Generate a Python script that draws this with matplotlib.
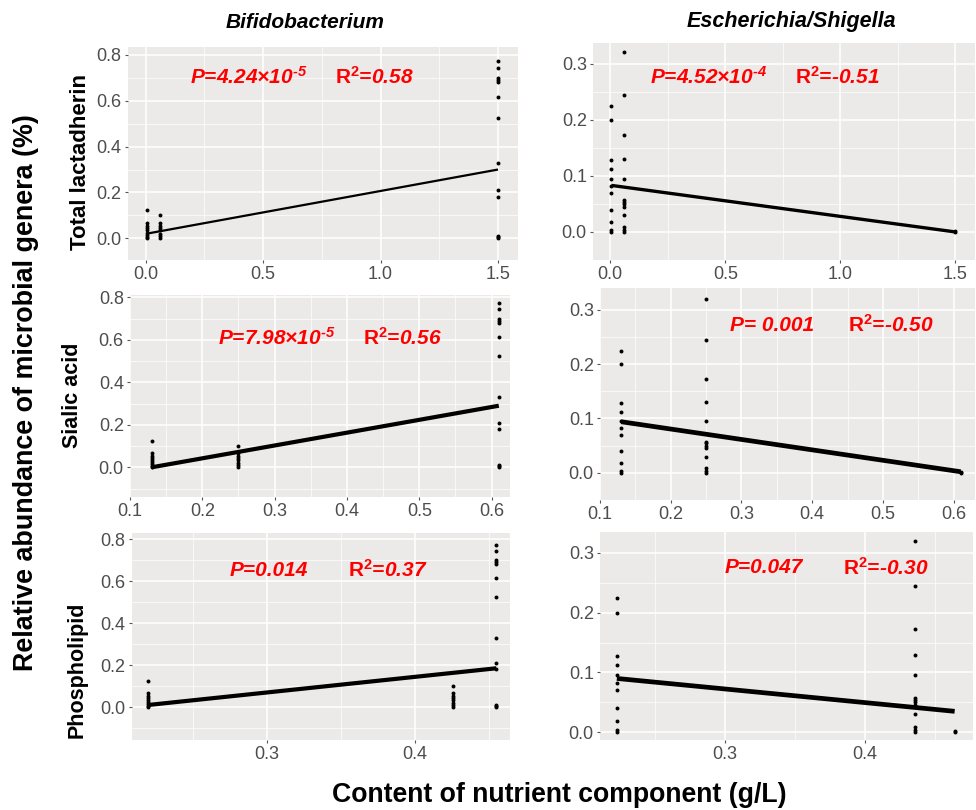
import matplotlib
matplotlib.use('Agg')
import matplotlib.pyplot as plt
from matplotlib.ticker import MultipleLocator

plt.rcParams['font.family'] = ['Liberation Sans', 'DejaVu Sans']
plt.rcParams['mathtext.fontset'] = 'custom'
plt.rcParams['mathtext.rm'] = 'Liberation Sans:bold:italic'
plt.rcParams['mathtext.it'] = 'Liberation Sans:bold:italic'
plt.rcParams['mathtext.bf'] = 'Liberation Sans:bold'

# abundance values per nutrient level (same samples in each row)
bifido_low1 = [0.125, 0.065, 0.055, 0.045, 0.035, 0.025, 0.015, 0.005, 0.0]
bifido_low2 = [0.10, 0.065, 0.055, 0.045, 0.035, 0.02, 0.01, 0.0]
bifido_high = [0.775, 0.745, 0.70, 0.69, 0.68, 0.615, 0.525, 0.33, 0.21, 0.18, 0.01, 0.005, 0.0]

esch_low1 = [0.225, 0.2, 0.128, 0.112, 0.095, 0.082, 0.07, 0.04, 0.018, 0.003, 0.0]
esch_low2 = [0.32, 0.245, 0.173, 0.13, 0.095, 0.057, 0.054, 0.05, 0.045, 0.03, 0.008, 0.003, 0.0]
esch_high = [0.002, 0.0]

# nutrient levels (g/L)
lact_x = [0.005, 0.06, 1.5]
sialic_x = [0.13, 0.25, 0.61]
phos_x_bif = [0.22, 0.426, 0.455]
phos_x_esc = [0.223, 0.436, 0.464]

# fitted line ends (y at first and last level)
fit_lact_bif = [0.02, 0.30]
fit_lact_esc = [0.083, 0.0]
fit_sial_bif = [0.0, 0.29]
fit_sial_esc = [0.094, 0.002]
fit_phos_bif = [0.01, 0.185]
fit_phos_esc = [0.09, 0.035]

hy = '\u2010'
p_texts = ['P=4.24×10$^{' + hy + '5}$', 'P=4.52×10$^{' + hy + '4}$', 'P=7.98×10$^{' + hy + '5}$',
           'P= 0.001', 'P=0.014', 'P=0.047']
r2 = r'$\mathbf{R}^{\mathbf{2}}$'
r_texts = [r2 + '=0.58', r2 + '=-0.51', r2 + '=0.56', r2 + '=-0.50', r2 + '=0.37', r2 + '=-0.30']

fig = plt.figure(figsize=(9.76, 8.10), dpi=100)

panels = [
    # rect, xs, groups, fit, xlim, ylim, xmajor, ymajor, lw, ptxt pos, rtxt x
    ([0.1311, 0.679, 0.3996, 0.263], lact_x, [bifido_low1, bifido_low2, bifido_high], fit_lact_bif,
     (-0.075, 1.585), (-0.095, 0.835), 0.5, 0.2, 1.6, (0.16, 0.86), 0.53),
    ([0.6076, 0.679, 0.3914, 0.268], lact_x, [esch_low1, esch_low2, esch_high], fit_lact_esc,
     (-0.075, 1.585), (-0.05, 0.337), 0.5, 0.1, 2.4, (0.149, 0.843), 0.529),
    ([0.1332, 0.3864, 0.389, 0.249], sialic_x, [bifido_low1, bifido_low2, bifido_high], fit_sial_bif,
     (0.1, 0.625), (-0.14, 0.81), 0.1, 0.2, 3.0, (0.232, 0.787), 0.613),
    ([0.6148, 0.3827, 0.384, 0.2617], sialic_x, [esch_low1, esch_low2, esch_high], fit_sial_esc,
     (0.1, 0.63), (-0.05, 0.34), 0.1, 0.1, 3.4, (0.347, 0.825), 0.661),
    ([0.1352, 0.0864, 0.387, 0.2556], phos_x_bif, [bifido_low1, bifido_low2, bifido_high], fit_phos_bif,
     (0.209, 0.464), (-0.157, 0.83), 0.1, 0.2, 3.0, (0.259, 0.82), 0.571),
    ([0.6148, 0.0864, 0.382, 0.2568], phos_x_esc, [esch_low1, esch_low2, esch_high], fit_phos_esc,
     (0.211, 0.477), (-0.013, 0.335), 0.1, 0.1, 3.4, (0.335, 0.83), 0.651),
]

for i, (rect, xs, groups, fit, xl, yl, xmaj, ymaj, lw, ppos, rx) in enumerate(panels):
    ax = fig.add_axes(rect)
    ax.set_facecolor('#EBEAE8')
    for x, vals in zip(xs, groups):
        ax.scatter([x] * len(vals), vals, s=8, color='black', zorder=3, linewidths=0)
    ax.plot([xs[0], xs[-1]], fit, color='black', lw=lw, zorder=4, solid_capstyle='butt')
    ax.set_xlim(*xl)
    ax.set_ylim(*yl)
    ax.xaxis.set_major_locator(MultipleLocator(xmaj))
    ax.xaxis.set_minor_locator(MultipleLocator(xmaj / 2))
    ax.yaxis.set_major_locator(MultipleLocator(ymaj))
    ax.yaxis.set_minor_locator(MultipleLocator(ymaj / 2))
    ax.grid(which='major', color='white', lw=1.1)
    ax.grid(which='minor', color='white', lw=0.5)
    ax.set_axisbelow(True)
    for s in ax.spines.values():
        s.set_visible(False)
    ax.tick_params(which='major', length=2.5, color='#555555', labelcolor='#4D4D4D',
                   labelsize=13, pad=2)
    ax.tick_params(which='minor', length=0)
    ax.text(ppos[0], ppos[1], p_texts[i], transform=ax.transAxes, color='red',
            fontsize=15, fontweight='bold', fontstyle='italic', va='center', ha='left')
    ax.text(rx, ppos[1], r_texts[i], transform=ax.transAxes, color='red',
            fontsize=15, fontweight='bold', fontstyle='italic', va='center', ha='left')

fig.text(305 / 976, 1 - 22 / 810, 'Bifidobacterium', fontsize=15, fontweight='bold',
         fontstyle='italic', ha='center', va='center')
fig.text(791 / 976, 1 - 22 / 810, 'Escherichia/Shigella', fontsize=15.5, fontweight='bold',
         fontstyle='italic', ha='center', va='center')

fig.text(80 / 976, 1 - 162 / 810, 'Total lactadherin', fontsize=16, fontweight='bold',
         rotation=90, ha='center', va='center')
fig.text(72 / 976, 1 - 395 / 810, 'Sialic acid', fontsize=15.5, fontweight='bold',
         rotation=90, ha='center', va='center')
fig.text(77 / 976, 1 - 670 / 810, 'Phospholipid', fontsize=15.5, fontweight='bold',
         rotation=90, ha='center', va='center')

fig.text(26 / 976, 1 - 393 / 810, 'Relative abundance of microbial genera (%)', fontsize=19.4,
         fontweight='bold', rotation=90, ha='center', va='center')
fig.text(559 / 976, 1 - 795 / 810, 'Content of nutrient component (g/L)', fontsize=19.2,
         fontweight='bold', ha='center', va='center')

fig.savefig('out.png', dpi=100)
